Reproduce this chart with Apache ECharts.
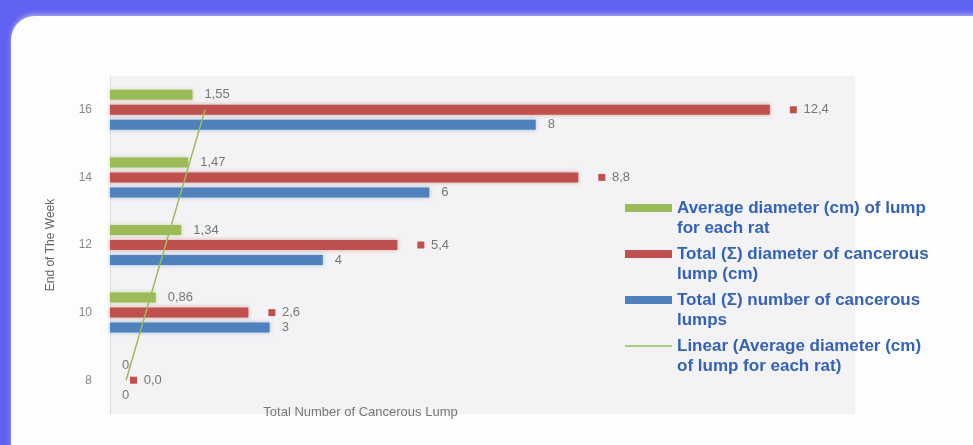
<!DOCTYPE html>
<html>
<head>
<meta charset="utf-8">
<script src="https://cdn.jsdelivr.net/npm/echarts@6/dist/echarts.min.js"></script>
<style>
  html, body { margin: 0; padding: 0; width: 973px; height: 445px; overflow: hidden; background: #6262f2; }
  #card { position: absolute; left: 11px; top: 16px; width: 1010px; height: 470px; border-radius: 24px; background: #fdfdfe; box-shadow: 0 -2px 4px #a6a6ea; }
  #chart { position: absolute; left: 0; top: 0; width: 973px; height: 445px; }
</style>
</head>
<body>
<div id="card"></div>
<div id="chart"></div>
<script>
// ---- data ----
const weeks = ['8', '10', '12', '14', '16'];
const avgDiameter = [0, 0.86, 1.34, 1.47, 1.55];
const totalDiameter = [0, 2.6, 5.4, 8.8, 12.4];
const totalNumber = [0, 3, 4, 6, 8];
const seriesNames = [
  'Average diameter (cm) of lump for each rat',
  'Total (\u03A3) diameter of cancerous lump (cm)',
  'Total (\u03A3) number of cancerous lumps',
  'Linear (Average diameter (cm) of lump for each rat)'
];
const legendLines = {};
legendLines[seriesNames[0]] = 'Average diameter (cm) of lump\nfor each rat';
legendLines[seriesNames[1]] = 'Total (\u03A3) diameter of cancerous\nlump (cm)';
legendLines[seriesNames[2]] = 'Total (\u03A3) number of cancerous\nlumps';
legendLines[seriesNames[3]] = 'Linear (Average diameter (cm)\nof lump for each rat)';

// linear trendline (least squares) of the average diameter series
function trend(vals) {
  const n = vals.length;
  let sx = 0, sy = 0, sxx = 0, sxy = 0;
  vals.forEach((y, i) => { const x = i + 1; sx += x; sy += y; sxx += x * x; sxy += x * y; });
  const b = (n * sxy - sx * sy) / (n * sxx - sx * sx);
  const a = (sy - b * sx) / n;
  return vals.map((_, i) => [a + b * (i + 1), i]);
}
const comma = (v, d) => v.toFixed(d).replace('.', ',');

const chart = echarts.init(document.getElementById('chart'));
const labelStyle = { color: '#777', fontSize: 13, fontFamily: 'Liberation Sans' };
const thinLine = 'path://M0,0h0.01v0.01h-0.01z M46.99,7.99h0.01v0.01h-0.01z M0,3.3H47V4.7H0z';
chart.setOption({
  animation: false,
  grid: { left: 110, top: 76, width: 745, height: 338, show: true, backgroundColor: '#f3f3f5', borderWidth: 0 },
  xAxis: {
    type: 'value', min: 0, max: 14,
    axisLabel: { show: false }, axisTick: { show: false }, axisLine: { show: false }, splitLine: { show: false },
    name: 'Total Number of Cancerous Lump', nameLocation: 'middle', nameGap: -8,
    nameTextStyle: { color: '#777', fontSize: 13, fontFamily: 'Liberation Sans', padding: [0, 244, 0, 0] }
  },
  yAxis: {
    type: 'category', data: weeks,
    axisLine: { show: true, lineStyle: { color: '#dedede' } },
    axisTick: { show: false },
    axisLabel: { color: '#888', fontSize: 12, margin: 18, fontFamily: 'Liberation Sans' },
    name: 'End of The Week', nameLocation: 'middle', nameGap: 53,
    nameTextStyle: { color: '#666', fontSize: 12, fontFamily: 'Liberation Sans' }
  },
  legend: {
    orient: 'vertical', left: 625, top: 178, padding: 0, itemWidth: 47, itemHeight: 8, itemGap: -14,
    data: [
      { name: seriesNames[0], icon: 'rect' },
      { name: seriesNames[1], icon: 'rect' },
      { name: seriesNames[2], icon: 'rect' },
      { name: seriesNames[3], icon: thinLine }
    ],
    formatter: n => ' \n' + legendLines[n],
    textStyle: { color: '#3462b8', fontSize: 17, fontWeight: 'bold', fontFamily: 'Liberation Sans', lineHeight: 20 }
  },
  series: [
    {
      name: seriesNames[0], type: 'bar', data: avgDiameter, barWidth: 10, barGap: '50%',
      itemStyle: { color: '#9bbb59', shadowBlur: 4, shadowColor: 'rgba(155,187,89,0.5)' },
      label: { show: true, position: 'right', distance: 12, formatter: p => p.value === 0 ? '0' : comma(p.value, 2), ...labelStyle }
    },
    {
      name: seriesNames[1], type: 'bar', data: totalDiameter, barWidth: 10, barGap: '50%',
      itemStyle: { color: '#c0504d', shadowBlur: 4, shadowColor: 'rgba(192,80,77,0.5)' },
      label: {
        show: true, position: 'right', distance: 20,
        formatter: p => '{m|}  {v|' + comma(p.value, 1) + '}',
        rich: {
          m: { width: 7, height: 7, backgroundColor: '#c0504d' },
          v: { ...labelStyle }
        }
      }
    },
    {
      name: seriesNames[2], type: 'bar', data: totalNumber, barWidth: 10, barGap: '50%',
      itemStyle: { color: '#4f81bd', shadowBlur: 4, shadowColor: 'rgba(79,129,189,0.5)' },
      label: { show: true, position: 'right', distance: 12, formatter: p => comma(p.value, 0), ...labelStyle }
    },
    {
      name: seriesNames[3], type: 'line', data: trend(avgDiameter), symbol: 'none',
      lineStyle: { color: '#9bbb59', width: 1.5 }, itemStyle: { color: '#9bbb59' }, z: 5
    }
  ]
});
</script>
</body>
</html>
